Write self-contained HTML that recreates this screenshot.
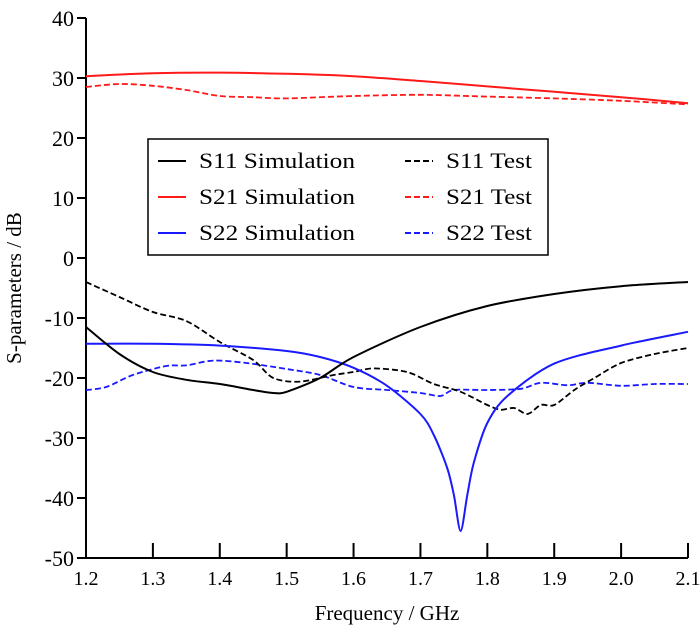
<!DOCTYPE html>
<html><head><meta charset="utf-8"><style>
body{margin:0;background:#fff}
svg{display:block;font-family:"Liberation Serif",serif}
</style></head><body>
<svg width="700" height="636">
<g id="axes"></g><g id="series"></g><g id="legend"></g>
</svg>
<script>
const xTicks=[1.2,1.3,1.4,1.5,1.6,1.7,1.8,1.9,2.0,2.1];
const yTicks=[40,30,20,10,0,-10,-20,-30,-40,-50];
const s11SimX=[1.2,1.25,1.3,1.35,1.4,1.45,1.48,1.5,1.55,1.6,1.7,1.8,1.9,2.0,2.1];
const s11SimY=[-11.5,-16,-19,-20.3,-21,-22,-22.5,-22.3,-20,-16.5,-11.5,-8,-6,-4.7,-4];
const s21SimX=[1.2,1.3,1.4,1.5,1.6,1.7,1.8,1.9,2.0,2.1];
const s21SimY=[30.3,30.8,30.9,30.7,30.3,29.5,28.6,27.7,26.8,25.8];
const s22SimX=[1.2,1.3,1.4,1.5,1.55,1.6,1.65,1.7,1.72,1.74,1.75,1.76,1.77,1.78,1.8,1.83,1.9,2.0,2.1];
const s22SimY=[-14.3,-14.3,-14.6,-15.5,-16.5,-18.3,-21.3,-26,-29.5,-35,-39.5,-45.5,-39.5,-34,-27.5,-23,-17.6,-14.6,-12.3];
const s11TestX=[1.2,1.25,1.3,1.35,1.4,1.45,1.48,1.52,1.57,1.6,1.63,1.68,1.72,1.76,1.8,1.82,1.84,1.86,1.88,1.9,1.93,1.96,2.0,2.05,2.1];
const s11TestY=[-4,-6.5,-9,-10.5,-14,-17,-20,-20.6,-19.5,-19,-18.4,-19,-21,-22.3,-24.5,-25.3,-25,-26,-24.5,-24.5,-22,-20,-17.5,-16,-15];
const s21TestX=[1.2,1.25,1.3,1.35,1.4,1.45,1.5,1.6,1.7,1.8,1.9,2.0,2.1];
const s21TestY=[28.5,29,28.7,28,27,26.8,26.6,27,27.2,26.9,26.6,26.2,25.6];
const s22TestX=[1.2,1.23,1.27,1.32,1.35,1.39,1.44,1.5,1.55,1.6,1.65,1.7,1.73,1.75,1.8,1.85,1.88,1.92,1.95,2.0,2.05,2.1];
const s22TestY=[-22,-21.5,-19.5,-18,-17.9,-17.1,-17.5,-18.5,-19.5,-21.5,-22,-22.5,-23,-22,-22,-21.8,-20.8,-21.2,-20.8,-21.3,-21,-21];

const X0=86,X1=688,Y0=18,Y1=558;
const sx=v=>X0+(v-1.2)/(0.9)*(X1-X0);
const sy=v=>Y0+(40-v)/90*(Y1-Y0);
const NS="http://www.w3.org/2000/svg";
function mk(tag,attrs,parent){const e=document.createElementNS(NS,tag);for(const k in attrs)e.setAttribute(k,attrs[k]);parent.appendChild(e);return e;}
function smooth(xs,ys){
 const P=xs.map((x,i)=>[sx(x),sy(ys[i])]);
 let d='M'+P[0][0].toFixed(1)+','+P[0][1].toFixed(1);
 for(let i=0;i<P.length-1;i++){
  const p0=P[Math.max(0,i-1)],p1=P[i],p2=P[i+1],p3=P[Math.min(P.length-1,i+2)];
  const t=0.15;
  const c1=[p1[0]+(p2[0]-p0[0])*t,p1[1]+(p2[1]-p0[1])*t];
  const c2=[p2[0]-(p3[0]-p1[0])*t,p2[1]-(p3[1]-p1[1])*t];
  d+=' C'+c1.map(v=>v.toFixed(1)).join(',')+' '+c2.map(v=>v.toFixed(1)).join(',')+' '+p2[0].toFixed(1)+','+p2[1].toFixed(1);
 }
 return d;
}
const axes=document.getElementById('axes'),series=document.getElementById('series'),legend=document.getElementById('legend');
let a=mk('line',{x1:X0,y1:Y0,x2:X0,y2:Y1,stroke:'#000','stroke-width':2},axes);


a=mk('line',{x1:X0-1,y1:Y1,x2:X1,y2:Y1,stroke:'#000','stroke-width':2},axes);


yTicks.forEach(v=>{
 const t=mk('line',{x1:X0-9,x2:X0,y1:sy(v),y2:sy(v),stroke:'#000','stroke-width':2},axes);
 
 
 const l=mk('text',{x:X0-12,y:sy(v)+8,'text-anchor':'end','font-size':22},axes);l.textContent=v;
 
 
});
xTicks.forEach(v=>{
 const t=mk('line',{x1:sx(v),x2:sx(v),y1:Y1,y2:Y1-15,stroke:'#000','stroke-width':2},axes);
 
 
 const l=mk('text',{x:sx(v),y:Y1+27,'text-anchor':'middle','font-size':20},axes);l.textContent=v.toFixed(1);
 
 
});
let tt=mk('text',{x:sx(1.65),y:620,'text-anchor':'middle','font-size':21},axes);tt.textContent='Frequency / GHz';


tt=mk('text',{x:0,y:0,'text-anchor':'middle','font-size':21,transform:'translate(21,288) rotate(-90)'},axes);tt.textContent='S-parameters / dB';


const defs=[
 [s21SimX,s21SimY,'#ff1a1a',false,'s21-simulation-line'],
 [s21TestX,s21TestY,'#ff1a1a',true,'s21-test-line'],
 [s22TestX,s22TestY,'#1a1aff',true,'s22-test-line'],
 [s11TestX,s11TestY,'#000',true,'s11-test-line'],
 [s22SimX,s22SimY,'#1a1aff',false,'s22-simulation-line'],
 [s11SimX,s11SimY,'#000',false,'s11-simulation-line']];
defs.forEach(([xs,ys,c,d,n])=>{
 const p=mk('path',{d:smooth(xs,ys),fill:'none',stroke:c,'stroke-width':d?1.8:2,'stroke-dasharray':d?'6,3':'none','stroke-linejoin':'round'},series);
 
 
});
const box=mk('rect',{x:148,y:139,width:400,height:116,fill:'#fff',stroke:'#000','stroke-width':1.5},legend);


const leg=[['S11 Simulation','#000',false,158,168],['S21 Simulation','#ff1a1a',false,158,204],['S22 Simulation','#1a1aff',false,158,240],
['S11 Test','#000',true,405,168],['S21 Test','#ff1a1a',true,405,204],['S22 Test','#1a1aff',true,405,240]];
leg.forEach(([t,c,d,x,y])=>{
 const g=mk('g',{},legend);
 
 
 mk('line',{x1:x,x2:x+28,y1:y-7,y2:y-7,stroke:c,'stroke-width':2,'stroke-dasharray':d?'6,3':'none'},g);
 const l=mk('text',{x:x+41,y:y,'font-size':22,textLength:t.length>9?156:86,lengthAdjust:'spacingAndGlyphs'},g);l.textContent=t;
});
</script>
</body></html>
